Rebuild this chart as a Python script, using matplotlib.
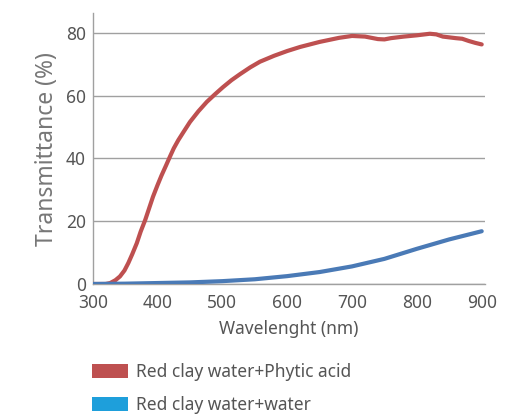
import matplotlib
matplotlib.use("Agg")
import matplotlib.pyplot as plt
from matplotlib.patches import Patch

plt.rcParams['font.family'] = ['Noto Sans', 'DejaVu Sans']

wl_red = [300, 320, 327, 335, 342, 349, 355, 361, 368, 374, 381, 387, 393, 400, 406,
          413, 419, 425, 432, 440, 450, 463, 476, 489, 501, 514, 527, 543, 558, 580,
          600, 620, 650, 680, 700, 720, 740, 750, 760, 780, 800, 820, 830, 840, 860,
          870, 880, 890, 900]
t_red = [0, 0, 0.3, 1.2, 2.4, 4.3, 6.7, 9.5, 13, 16.7, 20.4, 24.1, 27.8, 31.5, 34.5,
         37.7, 40.5, 43.2, 45.8, 48.4, 51.6, 55, 58, 60.5, 62.7, 64.9, 66.8, 69, 70.8, 72.7,
         74.2, 75.5, 77.1, 78.4, 79, 78.8, 78, 77.9, 78.3, 78.8, 79.2, 79.7, 79.5, 78.8, 78.3,
         78.1, 77.4, 76.8, 76.3]

wl_blue = [300, 350, 400, 450, 500, 550, 600, 650, 700, 750, 800, 850, 900]
t_blue = [0, 0.1, 0.3, 0.5, 0.9, 1.5, 2.5, 3.8, 5.6, 8.0, 11.2, 14.2, 16.8]

labels = ["Red clay water+Phytic acid", "Red clay water+water"]
line_colors = ["#BE5050", "#4A7AB6"]
legend_colors = ["#BE5050", "#1E9FDB"]
x_ticks = [300, 400, 500, 600, 700, 800, 900]
y_ticks = [0, 20, 40, 60, 80]

fig = plt.figure(figsize=(5.22, 4.17), dpi=100)
ax = fig.add_axes([0.1776, 0.319, 0.929 - 0.1776, 0.968 - 0.319])

ax.plot(wl_red, t_red, color=line_colors[0], lw=3, solid_capstyle='round',
        solid_joinstyle='round', zorder=3)
ax.plot(wl_blue, t_blue, color=line_colors[1], lw=3, solid_capstyle='round',
        solid_joinstyle='round', zorder=3)

ax.set_xlim(300, 905)
ax.set_ylim(0, 86.2)
ax.set_xticks(x_ticks)
ax.set_yticks(y_ticks)
ax.yaxis.grid(True, color="#A0A0A0", lw=1)
ax.set_axisbelow(True)
ax.tick_params(length=0, labelsize=12.5, colors="#555555")
ax.tick_params(axis='x', pad=7)
ax.tick_params(axis='y', pad=5)
for s in ["top", "right"]:
    ax.spines[s].set_visible(False)
for s in ["left", "bottom"]:
    ax.spines[s].set_color("#A0A0A0")
    ax.spines[s].set_linewidth(1)

ax.set_xlabel("Wavelenght (nm)", fontsize=12.5, color="#555555", labelpad=6)
ax.set_ylabel("Transmittance (%)", fontsize=16.5, color="#777777", labelpad=5)

handles = [Patch(facecolor=c, edgecolor='none') for c in legend_colors]
fig.legend(handles, labels, loc="upper left", bbox_to_anchor=(0.176, 0.13),
           frameon=False, fontsize=12.5, labelcolor="#555555",
           handlelength=2.1, handleheight=0.87, handletextpad=0.45, labelspacing=0.85,
           borderaxespad=0, borderpad=0)

fig.savefig("out.png", dpi=100)
